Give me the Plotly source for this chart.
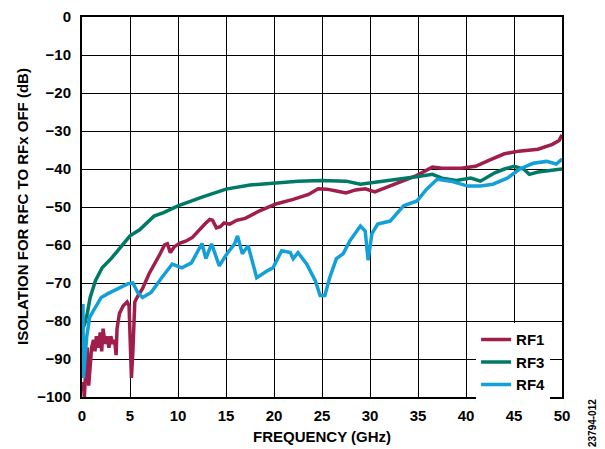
import plotly.graph_objects as go

# ---------------- data ----------------
rf1_freq = [0.1, 0.25, 0.4, 0.55, 0.7, 0.85, 1.0, 1.2, 1.35, 1.5, 1.7, 1.9, 2.05, 2.2, 2.4,
            2.6, 2.8, 3.0, 3.2, 3.4, 3.55, 3.65, 3.9, 4.3, 4.7, 4.9, 5.05, 5.15, 5.3, 5.5,
            5.8, 6.3, 7.0, 7.6, 8.1, 8.6, 8.9, 9.2, 9.6, 10.2, 10.8, 11.5, 12.2, 12.8, 13.3,
            13.6, 14.0, 14.4, 14.8, 15.4, 16.1, 17.0, 18.5, 20.2, 22.0, 23.6, 24.6, 25.5,
            26.5, 27.5, 28.5, 29.5, 30.5, 31.5, 33.0, 34.7, 36.5, 37.5, 39.5, 41.0, 42.5,
            44.0, 45.5, 47.5, 49.0, 49.7, 50.0]
rf1_db = [-96, -100, -92, -87, -97, -93, -87, -85, -88, -84, -87, -83, -88, -82, -86,
          -84, -87, -84, -86, -85, -89, -82, -78, -76, -75, -76, -85, -95, -88, -75,
          -73.5, -71.5, -67.5, -65, -62.5, -60, -59.7, -62, -60.5, -59.5, -59, -58, -56, -54.5, -53.3,
          -53.5, -55.5, -55.2, -54.2, -54.5, -53.5, -53, -51, -49.2, -48, -46.7, -45.2, -45.3,
          -45.8, -46.3, -45.5, -45.2, -46, -45, -43.5, -41.9, -39.5, -39.8, -39.8, -39.3, -37.6,
          -36, -35.3, -34.8, -33.5, -32.5, -31]

rf3_freq = [0.1, 0.3, 0.55, 0.85, 1.4, 2.1, 3.1, 4.2, 5.0, 6.0, 7.5, 8.5, 10.0, 12.5, 15.0,
            17.5, 20.0, 22.5, 25.0, 27.5, 29.0, 30.0, 31.5, 33.0, 35.0, 36.5, 37.5, 39.0,
            40.5, 41.5, 43.0, 44.0, 45.0, 46.0, 46.6, 47.5, 48.5, 50.0]
rf3_db = [-82, -80.6, -78, -73.8, -69.4, -66, -63.4, -60.2, -57.6, -56, -52.4, -51.5, -49.7,
          -47.4, -45.3, -44.2, -43.7, -43.2, -43, -43.2, -44, -43.7, -43.2, -42.7, -42, -41.4,
          -42.4, -43, -42.4, -43.2, -41, -40, -39.3, -40, -41.4, -40.8, -40.5, -40]

rf4_freq = [0.1, 0.15, 0.3, 0.5, 0.8, 1.3, 2.0, 2.7, 3.7, 4.8, 5.3, 5.8, 6.3, 7.2, 8.3,
            9.4, 10.4, 11.4, 12.5, 12.9, 13.5, 14.3, 15.1, 15.9, 16.2, 16.7, 17.3, 18.2,
            19.3, 19.9, 20.8, 21.7, 22.0, 22.5, 23.4, 24.3, 24.8, 25.3, 25.8, 26.5, 27.2,
            27.9, 29.0, 29.5, 29.8, 30.2, 30.8, 32.1, 33.5, 34.9, 35.9, 37.0, 38.4, 40.2,
            41.5, 42.8, 44.3, 45.6, 47.0, 48.4, 49.4, 50.0]
rf4_db = [-75.5, -95, -90, -84, -79, -77, -73.8, -72.8, -71.5, -70.2, -70, -72.5, -73.8, -72.5, -68.6,
          -65, -66, -64.7, -59.6, -63.6, -59.7, -65.5, -62.3, -59.7, -57.6, -62.3, -60.2, -68.6,
          -66.8, -66, -61.5, -62, -63.6, -62, -65, -69.4, -73.3, -73.3, -68.6, -63.6, -62.3,
          -58.9, -55, -56.3, -64, -57, -54.5, -53.7, -49.7, -48.4, -45.3, -42.7, -43.2, -44.5,
          -44.5, -44, -42.4, -40, -38.5, -38, -38.7, -37.4]

series_names = ["RF1", "RF3", "RF4"]
series_colors = ["#A01E4B", "#007A66", "#13A0D8"]

x_ticks = [0, 5, 10, 15, 20, 25, 30, 35, 40, 45, 50]
y_ticks = [0, -10, -20, -30, -40, -50, -60, -70, -80, -90, -100]

# ---------------- figure ----------------
fig = go.Figure()
for name, fx, fy, col in zip(series_names,
                             [rf1_freq, rf3_freq, rf4_freq],
                             [rf1_db, rf3_db, rf4_db],
                             series_colors):
    fig.add_trace(go.Scatter(x=fx, y=fy, mode="lines", name=name,
                             line=dict(color=col, width=3.5)))

FAM = "Liberation Sans, Arial, sans-serif"
bold = dict(family=FAM, size=15, color="black", weight="bold")

# the page body has an 8 px default margin: compensate so the plot lands where the reference has it
fig.update_layout(
    width=597, height=441,
    margin=dict(l=74, r=43, t=9, b=52, autoexpand=False),
    paper_bgcolor="white", plot_bgcolor="white",
    showlegend=True,
    legend=dict(x=0.821, y=0.0916, xanchor="left", yanchor="middle",
                bgcolor="white", borderwidth=0,
                font=dict(family=FAM, size=15, color="black", weight="bold"),
                tracegroupgap=0),
    font=bold,
)

fig.update_xaxes(range=[0, 50], tickvals=x_ticks, ticktext=[str(v) for v in x_ticks],
                 showgrid=True, gridcolor="black", gridwidth=1.3,
                 showline=True, linecolor="black", linewidth=2, mirror=True,
                 zeroline=False, ticks="", tickfont=bold,
                 ticklabelstandoff=4, ticklabeloverflow="allow", automargin=False)
fig.update_yaxes(range=[-100, 0], tickvals=y_ticks,
                 ticktext=[("\u2212" + str(-v)) if v < 0 else str(v) for v in y_ticks],
                 showgrid=True, gridcolor="black", gridwidth=1.3,
                 showline=True, linecolor="black", linewidth=2, mirror=True,
                 zeroline=False, ticks="", tickfont=bold,
                 ticklabelstandoff=6, ticklabeloverflow="allow", automargin=False)

fig.add_annotation(text="ISOLATION FOR RFC TO RFx OFF (dB)", xref="paper", yref="paper",
                   x=-0.125, y=0.5, xanchor="center", yanchor="middle", textangle=-90,
                   showarrow=False, font=bold)
fig.add_annotation(text="FREQUENCY (GHz)", xref="paper", yref="paper",
                   x=0.5, y=-0.105, xanchor="center", yanchor="middle",
                   showarrow=False, font=bold)
fig.add_annotation(text="23794-012", xref="paper", yref="paper",
                   x=1.065, y=-0.068, xanchor="center", yanchor="middle", textangle=-90,
                   showarrow=False,
                   font=dict(family=FAM, size=10, color="black"))

fig.write_html("out.html")
